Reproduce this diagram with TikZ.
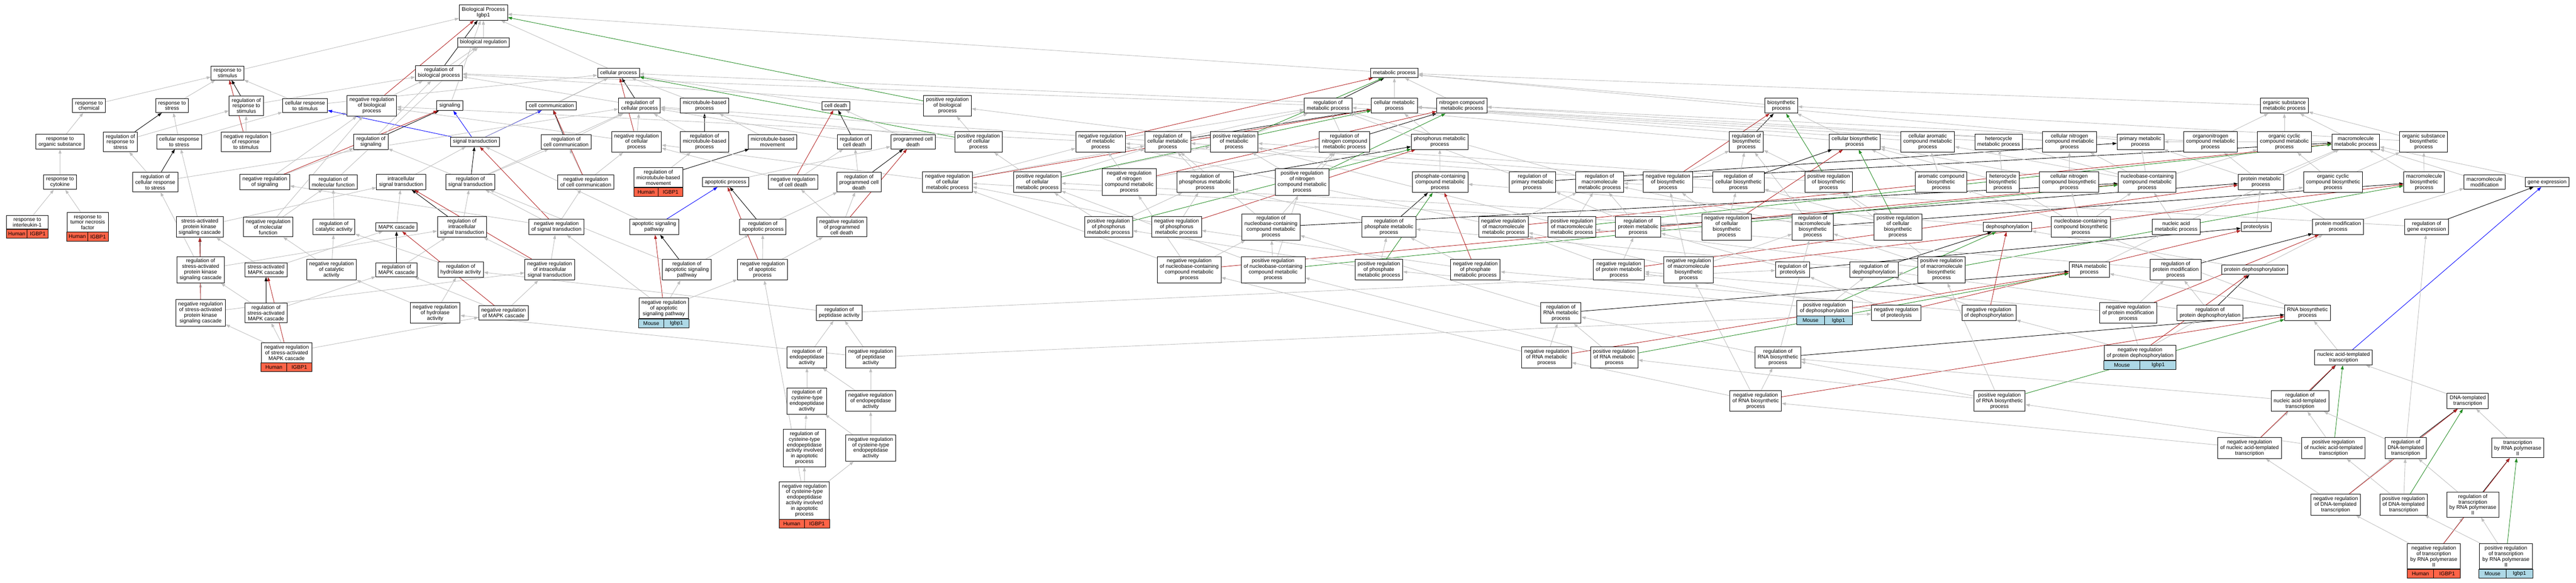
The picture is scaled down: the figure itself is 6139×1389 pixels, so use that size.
\documentclass[tikz,border=0pt]{standalone}
\usepackage{fontspec}
\setmainfont{Liberation Sans}
\usetikzlibrary{arrows.meta,calc}

\pgfdeclarelayer{edges}
\pgfsetlayers{edges,main}

\definecolor{edgegray}{RGB}{190,190,190}
\definecolor{negred}{RGB}{178,34,34}
\definecolor{posgreen}{RGB}{34,139,34}
\definecolor{partblue}{RGB}{0,0,255}
\definecolor{humanred}{RGB}{255,99,71}
\definecolor{mouseblue}{RGB}{173,216,230}

\newcommand{\termfont}{\fontsize{12.6}{13.4}\selectfont}

\tikzset{
  >={Triangle[length=10pt,width=7pt]},
  term/.style={draw=black, fill=white, line width=1.2pt, align=center,
    inner xsep=6pt, inner ysep=5.5pt, font=\termfont},
  isa/.style={->, draw=edgegray, line width=1.1pt},
  reg/.style={->, draw=black, line width=1.1pt},
  negreg/.style={->, draw=negred, line width=1.1pt},
  posreg/.style={->, draw=posgreen, line width=1.1pt},
  partof/.style={->, draw=partblue, line width=1.1pt},
}

% species / gene row under an annotated term
\newcommand{\genetag}[4]{%
  \draw[line width=1.2pt, fill=#4] (#1.south west) rectangle ([yshift=-21pt]#1.south east);
  \draw[line width=1.2pt] (#1.south) -- ([yshift=-21pt]#1.south);
  \node[font=\termfont] (#1sp) at ($(#1.south west)!0.5!(#1.south)+(0pt,-10.5pt)$) {#2};
  \node[font=\termfont] (#1gn) at ($(#1.south)!0.5!(#1.south east)+(0pt,-10.5pt)$) {#3};
}

\begin{document}
\begin{tikzpicture}[x=1pt, y=-1pt]
\useasboundingbox (0,0) rectangle (6139,1389);

% rows 0-2
\node[term] (bp) at (1152,30) {Biological Process\\Igbp1};
\node[term] (bioreg) at (1152,101) {biological regulation};
\node[term] (rstim) at (542,174) {response to\\stimulus};
\node[term] (regbp) at (1046,174) {regulation of\\biological process};
\node[term] (cellp) at (1474,174) {cellular process};
\node[term] (metp) at (3323,174) {metabolic process};

% row 3
\node[term] (rchem) at (212,252) {response to\\chemical};
\node[term] (rstress) at (410,252) {response to\\stress};
\node[term] (regrstim) at (587,252) {regulation of\\response to\\stimulus};
\node[term] (crstim) at (727,252) {cellular response\\to stimulus};
\node[term] (negregbp) at (886,252) {negative regulation\\of biological\\process};
\node[term] (signaling) at (1072,252) {signaling};
\node[term] (cellcomm) at (1314,252) {cell communication};
\node[term] (regcellp) at (1524,252) {regulation of\\cellular process};
\node[term] (mtp) at (1679,252) {microtubule-based\\process};
\node[term] (celldeath) at (1992,252) {cell death};
\node[term] (posregbp) at (2258,252) {positive regulation\\of biological\\process};
\node[term] (regmetp) at (3165,252) {regulation of\\metabolic process};
\node[term] (cellmetp) at (3323,252) {cellular metabolic\\process};
\node[term] (nitmetp) at (3484,252) {nitrogen compound\\metabolic process};
\node[term] (biosp) at (4245,252) {biosynthetic\\process};
\node[term] (orgsubmetp) at (5444,252) {organic substance\\metabolic process};

% row 4
\node[term] (rorg) at (143,338) {response to\\organic substance};
\node[term] (regrstress) at (287,338) {regulation of\\response to\\stress};
\node[term] (crstress) at (427,338) {cellular response\\to stress};
\node[term] (negregrstim) at (586,338) {negative regulation\\of response\\to stimulus};
\node[term] (regsig) at (884,338) {regulation of\\signaling};
\node[term] (sigtrans) at (1132,338) {signal transduction};
\node[term] (regcellcomm) at (1349,338) {regulation of\\cell communication};
\node[term] (negregcellp) at (1517,338) {negative regulation\\of cellular\\process};
\node[term] (regmtp) at (1679,338) {regulation of\\microtubule-based\\process};
\node[term] (mtmove) at (1841,338) {microtubule-based\\movement};
\node[term] (regcelldeath) at (2036,338) {regulation of\\cell death};
\node[term] (pcd) at (2176,338) {programmed cell\\death};
\node[term] (posregcellp) at (2332,338) {positive regulation\\of cellular\\process};
\node[term] (negregmetp) at (2623,338) {negative regulation\\of metabolic\\process};
\node[term] (regcellmetp) at (2783,338) {regulation of\\cellular metabolic\\process};
\node[term] (posregmetp) at (2941,338) {positive regulation\\of metabolic\\process};
\node[term] (regnitmetp) at (3204,338) {regulation of\\nitrogen compound\\metabolic process};
\node[term] (phosmetp) at (3431,338) {phosphorus metabolic\\process};
\node[term] (regbiosp) at (4162,338) {regulation of\\biosynthetic\\process};
\node[term] (cellbiosp) at (4420,338) {cellular biosynthetic\\process};
\node[term] (caromp) at (4594,338) {cellular aromatic\\compound metabolic\\process};
\node[term] (hetmetp) at (4763,338) {heterocycle\\metabolic process};
\node[term] (cnitmetp) at (4932,338) {cellular nitrogen\\compound metabolic\\process};
\node[term] (primmetp) at (5101,338) {primary metabolic\\process};
\node[term] (orgnitp) at (5268,338) {organonitrogen\\compound metabolic\\process};
\node[term] (orgcycp) at (5444,338) {organic cyclic\\compound metabolic\\process};
\node[term] (macmetp) at (5614,338) {macromolecule\\metabolic process};
\node[term] (orgsubbiosp) at (5776,338) {organic substance\\biosynthetic\\process};

% row 5
\node[term] (rcyt) at (143,434) {response to\\cytokine};
\node[term] (regcrstress) at (370,434) {regulation of\\cellular response\\to stress};
\node[term] (negregsig) at (631,434) {negative regulation\\of signaling};
\node[term] (regmolf) at (794,434) {regulation of\\molecular function};
\node[term] (intrasig) at (956,434) {intracellular\\signal transduction};
\node[term] (regsigtrans) at (1121,434) {regulation of\\signal transduction};
\node[term] (negregcellcomm) at (1396,434) {negative regulation\\of cell communication};
\node[term, minimum width=115pt] (regmtmove) at (1569,423) {regulation of\\microtubule-based\\movement};
\genetag{regmtmove}{Human}{IGBP1}{humanred}
\node[term] (apop) at (1729,434) {apoptotic process};
\node[term] (negregcelldeath) at (1890,434) {negative regulation\\of cell death};
\node[term] (regpcd) at (2047,434) {regulation of\\programmed cell\\death};
\node[term] (negregcellmetp) at (2258,434) {negative regulation\\of cellular\\metabolic process};
\node[term] (posregcellmetp) at (2472,434) {positive regulation\\of cellular\\metabolic process};
\node[term] (negregnitmetp) at (2691,434) {negative regulation\\of nitrogen\\compound metabolic\\process};
\node[term] (regphosmetp) at (2872,434) {regulation of\\phosphorus metabolic\\process};
\node[term] (posregnitmetp) at (3103,434) {positive regulation\\of nitrogen\\compound metabolic\\process};
\node[term] (phosphmetp) at (3432,434) {phosphate-containing\\compound metabolic\\process};
\node[term] (regprimmetp) at (3652,434) {regulation of\\primary metabolic\\process};
\node[term] (regmacmetp) at (3812,434) {regulation of\\macromolecule\\metabolic process};
\node[term] (negregbiosp) at (3975,434) {negative regulation\\of biosynthetic\\process};
\node[term] (regcellbiosp) at (4143,434) {regulation of\\cellular biosynthetic\\process};
\node[term] (posregbiosp) at (4358,434) {positive regulation\\of biosynthetic\\process};
\node[term] (arombiosp) at (4626,434) {aromatic compound\\biosynthetic\\process};
\node[term] (hetbiosp) at (4773,434) {heterocycle\\biosynthetic\\process};
\node[term] (cnitbiosp) at (4931,434) {cellular nitrogen\\compound biosynthetic\\process};
\node[term] (nucmetp) at (5117,434) {nucleobase-containing\\compound metabolic\\process};
\node[term] (protmetp) at (5388,434) {protein metabolic\\process};
\node[term] (orgcycbiosp) at (5560,434) {organic cyclic\\compound biosynthetic\\process};
\node[term] (macbiosp) at (5777,434) {macromolecule\\biosynthetic\\process};
\node[term] (macmod) at (5921,434) {macromolecule\\modification};
\node[term] (geneexp) at (6070,434) {gene expression};

% row 6
\node[term, minimum width=99pt] (ril1) at (65,530) {response to\\interleukin-1};
\genetag{ril1}{Human}{IGBP1}{humanred}
\node[term, minimum width=98pt] (rtnf) at (209,530) {response to\\tumor necrosis\\factor};
\genetag{rtnf}{Human}{IGBP1}{humanred}
\node[term] (sapk) at (476,541) {stress-activated\\protein kinase\\signaling cascade};
\node[term] (negregmolf) at (639,541) {negative regulation\\of molecular\\function};
\node[term] (regcat) at (796,541) {regulation of\\catalytic activity};
\node[term] (mapk) at (945,541) {MAPK cascade};
\node[term] (regintrasig) at (1101,541) {regulation of\\intracellular\\signal transduction};
\node[term] (negregsigtrans) at (1326,541) {negative regulation\\of signal transduction};
\node[term] (apopsig) at (1559,541) {apoptotic signaling\\pathway};
\node[term] (regapop) at (1818,541) {regulation of\\apoptotic process};
\node[term] (negregpcd) at (2006,541) {negative regulation\\of programmed\\cell death};
\node[term] (posregphosmetp) at (2642,541) {positive regulation\\of phosphorus\\metabolic process};
\node[term] (negregphosmetp) at (2804,541) {negative regulation\\of phosphorus\\metabolic process};
\node[term] (regnucmetp) at (3029,541) {regulation of\\nucleobase-containing\\compound metabolic\\process};
\node[term] (regphosphmetp) at (3310,541) {regulation of\\phosphate metabolic\\process};
\node[term] (negregmacmetp) at (3583,541) {negative regulation\\of macromolecule\\metabolic process};
\node[term] (posregmacmetp) at (3746,541) {positive regulation\\of macromolecule\\metabolic process};
\node[term] (regprotmetp) at (3904,541) {regulation of\\protein metabolic\\process};
\node[term] (negregcellbiosp) at (4115,541) {negative regulation\\of cellular\\biosynthetic\\process};
\node[term] (regmacbiosp) at (4320,541) {regulation of\\macromolecule\\biosynthetic\\process};
\node[term] (posregcellbiosp) at (4523,541) {positive regulation\\of cellular\\biosynthetic\\process};
\node[term] (dephos) at (4784,541) {dephosphorylation};
\node[term] (nucbiosp) at (4959,541) {nucleobase-containing\\compound biosynthetic\\process};
\node[term] (nucacmetp) at (5186,541) {nucleic acid\\metabolic process};
\node[term] (proteolysis) at (5377,541) {proteolysis};
\node[term] (protmod) at (5572,541) {protein modification\\process};
\node[term] (reggeneexp) at (5783,541) {regulation of\\gene expression};

% row 7
\node[term] (regsapk) at (478,643) {regulation of\\stress-activated\\protein kinase\\signaling cascade};
\node[term] (samapk) at (634,643) {stress-activated\\MAPK cascade};
\node[term] (negregcat) at (790,643) {negative regulation\\of catalytic\\activity};
\node[term] (regmapk) at (945,643) {regulation of\\MAPK cascade};
\node[term] (reghyd) at (1098,643) {regulation of\\hydrolase activity};
\node[term] (negregintrasig) at (1310,643) {negative regulation\\of intracellular\\signal transduction};
\node[term] (regapopsig) at (1637,643) {regulation of\\apoptotic signaling\\pathway};
\node[term] (negregapop) at (1817,643) {negative regulation\\of apoptotic\\process};
\node[term] (negregnucmetp) at (2834,643) {negative regulation\\of nucleobase-containing\\compound metabolic\\process};
\node[term] (posregnucmetp) at (3034,643) {positive regulation\\of nucleobase-containing\\compound metabolic\\process};
\node[term] (posregphosphmetp) at (3286,643) {positive regulation\\of phosphate\\metabolic process};
\node[term] (negregphosphmetp) at (3516,643) {negative regulation\\of phosphate\\metabolic process};
\node[term] (negregprotmetp) at (3858,643) {negative regulation\\of protein metabolic\\process};
\node[term] (negregmacbiosp) at (4024,643) {negative regulation\\of macromolecule\\biosynthetic\\process};
\node[term] (regproteolysis) at (4272,643) {regulation of\\proteolysis};
\node[term] (regdephos) at (4466,643) {regulation of\\dephosphorylation};
\node[term] (posregmacbiosp) at (4627,643) {positive regulation\\of macromolecule\\biosynthetic\\process};
\node[term] (rnametp) at (4979,643) {RNA metabolic\\process};
\node[term] (regprotmod) at (5185,643) {regulation of\\protein modification\\process};
\node[term] (protdephos) at (5373,643) {protein dephosphorylation};

% row 8
\node[term] (negregsapk) at (478,746) {negative regulation\\of stress-activated\\protein kinase\\signaling cascade};
\node[term] (regsamapk) at (634,746) {regulation of\\stress-activated\\MAPK cascade};
\node[term] (negreghyd) at (1037,746) {negative regulation\\of hydrolase\\activity};
\node[term] (negregmapk) at (1200,746) {negative regulation\\of MAPK cascade};
\node[term, minimum width=118pt] (negregapopsig) at (1582,735) {negative regulation\\of apoptotic\\signaling pathway};
\genetag{negregapopsig}{Mouse}{Igbp1}{mouseblue}
\node[term] (regpep) at (2000,746) {regulation of\\peptidase activity};
\node[term] (regrnametp) at (3720,746) {regulation of\\RNA metabolic\\process};
\node[term, minimum width=132pt] (posregdephos) at (4348,735) {positive regulation\\of dephosphorylation};
\genetag{posregdephos}{Mouse}{Igbp1}{mouseblue}
\node[term] (negregproteolysis) at (4519,746) {negative regulation\\of proteolysis};
\node[term] (negregdephos) at (4740,746) {negative regulation\\of dephosphorylation};
\node[term] (negregprotmod) at (5072,746) {negative regulation\\of protein modification\\process};
\node[term] (regprotdephos) at (5267,746) {regulation of\\protein dephosphorylation};
\node[term] (rnabiosp) at (5499,746) {RNA biosynthetic\\process};

% row 9
\node[term, minimum width=120pt] (negregsamapk) at (683,841) {negative regulation\\of stress-activated\\MAPK cascade};
\genetag{negregsamapk}{Human}{IGBP1}{humanred}
\node[term] (regendopep) at (1923,852) {regulation of\\endopeptidase\\activity};
\node[term] (negregpep) at (2075,852) {negative regulation\\of peptidase\\activity};
\node[term] (negregrnametp) at (3686,852) {negative regulation\\of RNA metabolic\\process};
\node[term] (posregrnametp) at (3847,852) {positive regulation\\of RNA metabolic\\process};
\node[term] (regrnabiosp) at (4237,852) {regulation of\\RNA biosynthetic\\process};
\node[term] (negregprotdephos) at (5100,841) {negative regulation\\of protein dephosphorylation};
\genetag{negregprotdephos}{Mouse}{Igbp1}{mouseblue}
\node[term] (natrans) at (5585,852) {nucleic acid-templated\\transcription};

% row 10
\node[term] (regcysendo) at (1923,956) {regulation of\\cysteine-type\\endopeptidase\\activity};
\node[term] (negregendopep) at (2075,956) {negative regulation\\of endopeptidase\\activity};
\node[term] (negregrnabiosp) at (4184,956) {negative regulation\\of RNA biosynthetic\\process};
\node[term] (posregrnabiosp) at (4765,956) {positive regulation\\of RNA biosynthetic\\process};
\node[term] (regnatrans) at (5481,956) {regulation of\\nucleic acid-templated\\transcription};
\node[term] (dnatrans) at (5881,956) {DNA-templated\\transcription};

% row 11
\node[term] (regcysapop) at (1917,1068) {regulation of\\cysteine-type\\endopeptidase\\activity involved\\in apoptotic\\process};
\node[term] (negregcysendo) at (2075,1068) {negative regulation\\of cysteine-type\\endopeptidase\\activity};
\node[term] (negregnatrans) at (5361,1068) {negative regulation\\of nucleic acid-templated\\transcription};
\node[term] (posregnatrans) at (5561,1068) {positive regulation\\of nucleic acid-templated\\transcription};
\node[term] (regdnatrans) at (5733,1068) {regulation of\\DNA-templated\\transcription};
\node[term] (txpol2) at (6000,1068) {transcription\\by RNA polymerase\\II};

% rows 12-13
\node[term, minimum width=119pt] (negregcysapop) at (1917,1193) {negative regulation\\of cysteine-type\\endopeptidase\\activity involved\\in apoptotic\\process};
\genetag{negregcysapop}{Human}{IGBP1}{humanred}
\node[term] (negregdnatrans) at (5566,1203) {negative regulation\\of DNA-templated\\transcription};
\node[term] (posregdnatrans) at (5728,1203) {positive regulation\\of DNA-templated\\transcription};
\node[term] (regtxpol2) at (5893,1203) {regulation of\\transcription\\by RNA polymerase\\II};
\node[term, minimum width=126pt] (negregtxpol2) at (5800,1326) {negative regulation\\of transcription\\by RNA polymerase\\II};
\genetag{negregtxpol2}{Human}{IGBP1}{humanred}
\node[term, minimum width=127pt] (posregtxpol2) at (5972,1326) {positive regulation\\of transcription\\by RNA polymerase\\II};
\genetag{posregtxpol2}{Mouse}{Igbp1}{mouseblue}

\begin{pgfonlayer}{edges}
% top of the tree
\draw[isa] (bioreg) -- (bp);
\draw[isa] (rstim) -- (bp);
\draw[isa] (regbp) -- (bioreg);
\draw[reg] (regbp) -- (bp);
\draw[isa] (cellp) -- (bp);
\draw[isa] (metp) -- (bp);
% row 3
\draw[isa] (rchem) -- (rstim);
\draw[isa] (rstress) -- (rstim);
\draw[reg] (regrstim) -- (rstim);
\draw[isa] (regrstim) -- (regbp);
\draw[isa] (crstim) -- (rstim);
\draw[isa] (crstim) -- (cellp);
\draw[isa] (negregbp) -- (regbp);
\draw[negreg] (negregbp) -- (bp);
\draw[isa] (signaling) -- (bp);
\draw[isa] (cellcomm) -- (cellp);
\draw[reg] (regcellp) -- (cellp);
\draw[isa] (regcellp) -- (regbp);
\draw[isa] (mtp) -- (cellp);
\draw[isa] (celldeath) -- (cellp);
\draw[isa] (posregbp) -- (regbp);
\draw[posreg] (posregbp) -- (bp);
\draw[isa] (regmetp) -- (regbp);
\draw[reg] (regmetp) -- (metp);
\draw[isa] (cellmetp) -- (cellp);
\draw[isa] (cellmetp) -- (metp);
\draw[isa] (nitmetp) -- (metp);
\draw[isa] (biosp) -- (metp);
\draw[isa] (orgsubmetp) -- (metp);
% row 4
\draw[isa] (rorg) -- (rchem);
\draw[reg] (regrstress) -- (rstress);
\draw[isa] (regrstress) -- (regrstim);
\draw[isa] (crstress) -- (rstress);
\draw[isa] (crstress) -- (crstim);
\draw[isa] (negregrstim) -- (regrstim);
\draw[negreg] (negregrstim) -- (rstim);
\draw[isa] (negregrstim) -- (negregbp);
\draw[isa] (regsig) -- (regbp);
\draw[reg] (regsig) -- (signaling);
\draw[partof] (sigtrans) -- (signaling);
\draw[partof] (sigtrans) -- (cellcomm);
\draw[partof] (sigtrans) -- (crstim);
\draw[isa] (sigtrans) -- (cellp);
\draw[reg] (regcellcomm) -- (cellcomm);
\draw[isa] (regcellcomm) -- (regcellp);
\draw[isa] (negregcellp) -- (regcellp);
\draw[negreg] (negregcellp) -- (cellp);
\draw[isa] (negregcellp) -- (negregbp);
\draw[reg] (regmtp) -- (mtp);
\draw[isa] (regmtp) -- (regcellp);
\draw[isa] (mtmove) -- (mtp);
\draw[reg] (regcelldeath) -- (celldeath);
\draw[isa] (regcelldeath) -- (regcellp);
\draw[isa] (pcd) -- (celldeath);
\draw[isa] (posregcellp) -- (regcellp);
\draw[posreg] (posregcellp) -- (cellp);
\draw[isa] (posregcellp) -- (posregbp);
\draw[isa] (negregmetp) -- (regmetp);
\draw[negreg] (negregmetp) -- (metp);
\draw[isa] (negregmetp) -- (negregbp);
\draw[isa] (regcellmetp) -- (regmetp);
\draw[isa] (regcellmetp) -- (regcellp);
\draw[reg] (regcellmetp) -- (cellmetp);
\draw[isa] (posregmetp) -- (regmetp);
\draw[posreg] (posregmetp) -- (metp);
\draw[isa] (posregmetp) -- (posregbp);
\draw[isa] (regnitmetp) -- (regmetp);
\draw[reg] (regnitmetp) -- (nitmetp);
\draw[isa] (phosmetp) -- (cellmetp);
\draw[isa] (regbiosp) -- (regmetp);
\draw[reg] (regbiosp) -- (biosp);
\draw[isa] (cellbiosp) -- (biosp);
\draw[isa] (cellbiosp) -- (cellmetp);
\draw[isa] (caromp) -- (cellmetp);
\draw[isa] (hetmetp) -- (cellmetp);
\draw[isa] (cnitmetp) -- (cellmetp);
\draw[isa] (cnitmetp) -- (nitmetp);
\draw[isa] (primmetp) -- (metp);
\draw[isa] (orgnitp) -- (nitmetp);
\draw[isa] (orgnitp) -- (orgsubmetp);
\draw[isa] (orgcycp) -- (orgsubmetp);
\draw[isa] (macmetp) -- (orgsubmetp);
\draw[isa] (macmetp) -- (primmetp);
\draw[isa] (orgsubbiosp) -- (biosp);
\draw[isa] (orgsubbiosp) -- (orgsubmetp);
% row 5
\draw[isa] (rcyt) -- (rorg);
\draw[isa] (regcrstress) -- (regrstress);
\draw[reg] (regcrstress) -- (crstress);
\draw[isa] (regcrstress) -- (regcellp);
\draw[isa] (negregsig) -- (regsig);
\draw[negreg] (negregsig) -- (signaling);
\draw[isa] (negregsig) -- (negregbp);
\draw[isa] (regmolf) -- (bioreg);
\draw[isa] (intrasig) -- (sigtrans);
\draw[isa] (regsigtrans) -- (regsig);
\draw[reg] (regsigtrans) -- (sigtrans);
\draw[isa] (regsigtrans) -- (regcellcomm);
\draw[isa] (regsigtrans) -- (regcellp);
\draw[isa] (negregcellcomm) -- (regcellcomm);
\draw[negreg] (negregcellcomm) -- (cellcomm);
\draw[isa] (negregcellcomm) -- (negregcellp);
\draw[isa] (regmtmove) -- (regmtp);
\draw[reg] (regmtmove) -- (mtmove);
\draw[isa] (apop) -- (pcd);
\draw[isa] (negregcelldeath) -- (regcelldeath);
\draw[negreg] (negregcelldeath) -- (celldeath);
\draw[isa] (negregcelldeath) -- (negregcellp);
\draw[isa] (regpcd) -- (regcelldeath);
\draw[reg] (regpcd) -- (pcd);
\draw[isa] (negregcellmetp) -- (regcellmetp);
\draw[isa] (negregcellmetp) -- (negregmetp);
\draw[isa] (negregcellmetp) -- (negregcellp);
\draw[negreg] (negregcellmetp) -- (cellmetp);
\draw[isa] (posregcellmetp) -- (regcellmetp);
\draw[isa] (posregcellmetp) -- (posregmetp);
\draw[isa] (posregcellmetp) -- (posregcellp);
\draw[posreg] (posregcellmetp) -- (cellmetp);
\draw[isa] (negregnitmetp) -- (regnitmetp);
\draw[isa] (negregnitmetp) -- (negregmetp);
\draw[negreg] (negregnitmetp) -- (nitmetp);
\draw[isa] (regphosmetp) -- (regcellmetp);
\draw[reg] (regphosmetp) -- (phosmetp);
\draw[isa] (posregnitmetp) -- (regnitmetp);
\draw[isa] (posregnitmetp) -- (posregmetp);
\draw[posreg] (posregnitmetp) -- (nitmetp);
\draw[isa] (phosphmetp) -- (phosmetp);
\draw[isa] (regprimmetp) -- (regmetp);
\draw[reg] (regprimmetp) -- (primmetp);
\draw[isa] (regmacmetp) -- (regmetp);
\draw[reg] (regmacmetp) -- (macmetp);
\draw[isa] (negregbiosp) -- (regbiosp);
\draw[isa] (negregbiosp) -- (negregmetp);
\draw[negreg] (negregbiosp) -- (biosp);
\draw[isa] (regcellbiosp) -- (regbiosp);
\draw[isa] (regcellbiosp) -- (regcellmetp);
\draw[reg] (regcellbiosp) -- (cellbiosp);
\draw[isa] (posregbiosp) -- (regbiosp);
\draw[isa] (posregbiosp) -- (posregmetp);
\draw[posreg] (posregbiosp) -- (biosp);
\draw[isa] (arombiosp) -- (caromp);
\draw[isa] (arombiosp) -- (cellbiosp);
\draw[isa] (hetbiosp) -- (hetmetp);
\draw[isa] (hetbiosp) -- (cellbiosp);
\draw[isa] (cnitbiosp) -- (cnitmetp);
\draw[isa] (cnitbiosp) -- (cellbiosp);
\draw[isa] (nucmetp) -- (caromp);
\draw[isa] (nucmetp) -- (hetmetp);
\draw[isa] (nucmetp) -- (cnitmetp);
\draw[isa] (nucmetp) -- (orgcycp);
\draw[isa] (nucmetp) -- (primmetp);
\draw[isa] (protmetp) -- (macmetp);
\draw[isa] (protmetp) -- (orgnitp);
\draw[isa] (protmetp) -- (primmetp);
\draw[isa] (orgcycbiosp) -- (orgcycp);
\draw[isa] (orgcycbiosp) -- (orgsubbiosp);
\draw[isa] (macbiosp) -- (macmetp);
\draw[isa] (macbiosp) -- (orgsubbiosp);
\draw[isa] (macmod) -- (macmetp);
\draw[isa] (geneexp) -- (macmetp);
% row 6
\draw[isa] (ril1) -- (rcyt);
\draw[isa] (rtnf) -- (rcyt);
\draw[isa] (sapk) -- (crstress);
\draw[isa] (sapk) -- (intrasig);
\draw[isa] (negregmolf) -- (regmolf);
\draw[isa] (negregmolf) -- (negregbp);
\draw[isa] (regcat) -- (regmolf);
\draw[isa] (mapk) -- (intrasig);
\draw[isa] (regintrasig) -- (regsigtrans);
\draw[reg] (regintrasig) -- (intrasig);
\draw[isa] (negregsigtrans) -- (regsigtrans);
\draw[isa] (negregsigtrans) -- (negregsig);
\draw[isa] (negregsigtrans) -- (negregcellcomm);
\draw[negreg] (negregsigtrans) -- (sigtrans);
\draw[partof] (apopsig) -- (apop);
\draw[isa] (apopsig) -- (sigtrans);
\draw[isa] (regapop) -- (regpcd);
\draw[reg] (regapop) -- (apop);
\draw[isa] (negregpcd) -- (regpcd);
\draw[isa] (negregpcd) -- (negregcelldeath);
\draw[negreg] (negregpcd) -- (pcd);
\draw[isa] (posregphosmetp) -- (regphosmetp);
\draw[isa] (posregphosmetp) -- (posregcellmetp);
\draw[posreg] (posregphosmetp) -- (phosmetp);
\draw[isa] (negregphosmetp) -- (regphosmetp);
\draw[isa] (negregphosmetp) -- (negregcellmetp);
\draw[negreg] (negregphosmetp) -- (phosmetp);
\draw[isa] (regnucmetp) -- (regcellmetp);
\draw[isa] (regnucmetp) -- (regnitmetp);
\draw[reg] (regnucmetp) -- (nucmetp);
\draw[isa] (regphosphmetp) -- (regphosmetp);
\draw[reg] (regphosphmetp) -- (phosphmetp);
\draw[isa] (negregmacmetp) -- (regmacmetp);
\draw[isa] (negregmacmetp) -- (negregmetp);
\draw[negreg] (negregmacmetp) -- (macmetp);
\draw[isa] (posregmacmetp) -- (regmacmetp);
\draw[isa] (posregmacmetp) -- (posregmetp);
\draw[posreg] (posregmacmetp) -- (macmetp);
\draw[isa] (regprotmetp) -- (regmacmetp);
\draw[isa] (regprotmetp) -- (regprimmetp);
\draw[reg] (regprotmetp) -- (protmetp);
\draw[isa] (negregcellbiosp) -- (regcellbiosp);
\draw[isa] (negregcellbiosp) -- (negregbiosp);
\draw[isa] (negregcellbiosp) -- (negregcellmetp);
\draw[negreg] (negregcellbiosp) -- (cellbiosp);
\draw[isa] (regmacbiosp) -- (regmacmetp);
\draw[isa] (regmacbiosp) -- (regbiosp);
\draw[reg] (regmacbiosp) -- (macbiosp);
\draw[isa] (posregcellbiosp) -- (regcellbiosp);
\draw[isa] (posregcellbiosp) -- (posregbiosp);
\draw[isa] (posregcellbiosp) -- (posregcellmetp);
\draw[posreg] (posregcellbiosp) -- (cellbiosp);
\draw[isa] (dephos) -- (phosphmetp);
\draw[isa] (nucbiosp) -- (nucmetp);
\draw[isa] (nucbiosp) -- (arombiosp);
\draw[isa] (nucbiosp) -- (hetbiosp);
\draw[isa] (nucbiosp) -- (cnitbiosp);
\draw[isa] (nucbiosp) -- (orgcycbiosp);
\draw[isa] (nucacmetp) -- (nucmetp);
\draw[isa] (nucacmetp) -- (macmetp);
\draw[isa] (proteolysis) -- (protmetp);
\draw[isa] (protmod) -- (protmetp);
\draw[isa] (protmod) -- (macmod);
\draw[isa] (reggeneexp) -- (regmacmetp);
\draw[reg] (reggeneexp) -- (geneexp);
% row 7
\draw[isa] (regsapk) -- (regintrasig);
\draw[isa] (regsapk) -- (regcrstress);
\draw[reg] (regsapk) -- (sapk);
\draw[isa] (samapk) -- (sapk);
\draw[isa] (samapk) -- (mapk);
\draw[isa] (negregcat) -- (regcat);
\draw[isa] (negregcat) -- (negregmolf);
\draw[isa] (regmapk) -- (regintrasig);
\draw[reg] (regmapk) -- (mapk);
\draw[isa] (reghyd) -- (regcat);
\draw[isa] (negregintrasig) -- (regintrasig);
\draw[isa] (negregintrasig) -- (negregsigtrans);
\draw[negreg] (negregintrasig) -- (intrasig);
\draw[isa] (regapopsig) -- (regapop);
\draw[isa] (regapopsig) -- (regsigtrans);
\draw[reg] (regapopsig) -- (apopsig);
\draw[isa] (negregapop) -- (regapop);
\draw[isa] (negregapop) -- (negregpcd);
\draw[negreg] (negregapop) -- (apop);
\draw[isa] (negregnucmetp) -- (regnucmetp);
\draw[isa] (negregnucmetp) -- (negregnitmetp);
\draw[isa] (negregnucmetp) -- (negregcellmetp);
\draw[negreg] (negregnucmetp) -- (nucmetp);
\draw[isa] (posregnucmetp) -- (regnucmetp);
\draw[isa] (posregnucmetp) -- (posregnitmetp);
\draw[isa] (posregnucmetp) -- (posregcellmetp);
\draw[posreg] (posregnucmetp) -- (nucmetp);
\draw[isa] (posregphosphmetp) -- (regphosphmetp);
\draw[isa] (posregphosphmetp) -- (posregphosmetp);
\draw[posreg] (posregphosphmetp) -- (phosphmetp);
\draw[isa] (negregphosphmetp) -- (regphosphmetp);
\draw[isa] (negregphosphmetp) -- (negregphosmetp);
\draw[negreg] (negregphosphmetp) -- (phosphmetp);
\draw[isa] (negregprotmetp) -- (regprotmetp);
\draw[isa] (negregprotmetp) -- (negregmacmetp);
\draw[negreg] (negregprotmetp) -- (protmetp);
\draw[isa] (negregmacbiosp) -- (regmacbiosp);
\draw[isa] (negregmacbiosp) -- (negregbiosp);
\draw[isa] (negregmacbiosp) -- (negregmacmetp);
\draw[negreg] (negregmacbiosp) -- (macbiosp);
\draw[isa] (regproteolysis) -- (regprotmetp);
\draw[reg] (regproteolysis) -- (proteolysis);
\draw[isa] (regdephos) -- (regphosphmetp);
\draw[reg] (regdephos) -- (dephos);
\draw[isa] (posregmacbiosp) -- (regmacbiosp);
\draw[isa] (posregmacbiosp) -- (posregbiosp);
\draw[isa] (posregmacbiosp) -- (posregmacmetp);
\draw[posreg] (posregmacbiosp) -- (macbiosp);
\draw[isa] (rnametp) -- (nucacmetp);
\draw[isa] (regprotmod) -- (regprotmetp);
\draw[reg] (regprotmod) -- (protmod);
\draw[isa] (protdephos) -- (dephos);
\draw[isa] (protdephos) -- (protmod);
% row 8
\draw[isa] (negregsapk) -- (regsapk);
\draw[isa] (negregsapk) -- (negregintrasig);
\draw[negreg] (negregsapk) -- (sapk);
\draw[isa] (regsamapk) -- (regsapk);
\draw[isa] (regsamapk) -- (regmapk);
\draw[reg] (regsamapk) -- (samapk);
\draw[isa] (negreghyd) -- (reghyd);
\draw[isa] (negreghyd) -- (negregcat);
\draw[isa] (negregmapk) -- (regmapk);
\draw[isa] (negregmapk) -- (negregintrasig);
\draw[negreg] (negregmapk) -- (mapk);
\draw[isa] (negregapopsig) -- (regapopsig);
\draw[isa] (negregapopsig) -- (negregapop);
\draw[isa] (negregapopsig) -- (negregsigtrans);
\draw[negreg] (negregapopsig) -- (apopsig);
\draw[isa] (regpep) -- (reghyd);
\draw[isa] (regpep) -- (regproteolysis);
\draw[isa] (regrnametp) -- (regnucmetp);
\draw[reg] (regrnametp) -- (rnametp);
\draw[isa] (posregdephos) -- (regdephos);
\draw[isa] (posregdephos) -- (posregphosphmetp);
\draw[posreg] (posregdephos) -- (dephos);
\draw[isa] (negregproteolysis) -- (regproteolysis);
\draw[isa] (negregproteolysis) -- (negregprotmetp);
\draw[negreg] (negregproteolysis) -- (proteolysis);
\draw[isa] (negregdephos) -- (regdephos);
\draw[isa] (negregdephos) -- (negregphosphmetp);
\draw[negreg] (negregdephos) -- (dephos);
\draw[isa] (negregprotmod) -- (regprotmod);
\draw[isa] (negregprotmod) -- (negregprotmetp);
\draw[negreg] (negregprotmod) -- (protmod);
\draw[isa] (regprotdephos) -- (regprotmod);
\draw[isa] (regprotdephos) -- (regdephos);
\draw[reg] (regprotdephos) -- (protdephos);
\draw[isa] (rnabiosp) -- (rnametp);
\draw[isa] (rnabiosp) -- (nucbiosp);
% row 9
\draw[isa] (negregsamapk) -- (regsamapk);
\draw[isa] (negregsamapk) -- (negregsapk);
\draw[isa] (negregsamapk) -- (negregmapk);
\draw[negreg] (negregsamapk) -- (samapk);
\draw[isa] (regendopep) -- (regpep);
\draw[isa] (negregpep) -- (regpep);
\draw[isa] (negregpep) -- (negreghyd);
\draw[isa] (negregpep) -- (negregproteolysis);
\draw[isa] (negregrnametp) -- (regrnametp);
\draw[isa] (negregrnametp) -- (negregnucmetp);
\draw[negreg] (negregrnametp) -- (rnametp);
\draw[isa] (posregrnametp) -- (regrnametp);
\draw[isa] (posregrnametp) -- (posregnucmetp);
\draw[posreg] (posregrnametp) -- (rnametp);
\draw[isa] (regrnabiosp) -- (regrnametp);
\draw[isa] (regrnabiosp) -- (regmacbiosp);
\draw[reg] (regrnabiosp) -- (rnabiosp);
\draw[isa] (negregprotdephos) -- (regprotdephos);
\draw[isa] (negregprotdephos) -- (negregdephos);
\draw[isa] (negregprotdephos) -- (negregprotmod);
\draw[negreg] (negregprotdephos) -- (protdephos);
\draw[isa] (natrans) -- (rnabiosp);
\draw[partof] (natrans) -- (geneexp);
% row 10
\draw[isa] (regcysendo) -- (regendopep);
\draw[isa] (negregendopep) -- (regendopep);
\draw[isa] (negregendopep) -- (negregpep);
\draw[isa] (negregrnabiosp) -- (regrnabiosp);
\draw[isa] (negregrnabiosp) -- (negregrnametp);
\draw[isa] (negregrnabiosp) -- (negregmacbiosp);
\draw[negreg] (negregrnabiosp) -- (rnabiosp);
\draw[isa] (posregrnabiosp) -- (regrnabiosp);
\draw[isa] (posregrnabiosp) -- (posregrnametp);
\draw[isa] (posregrnabiosp) -- (posregmacbiosp);
\draw[posreg] (posregrnabiosp) -- (rnabiosp);
\draw[isa] (regnatrans) -- (regrnabiosp);
\draw[reg] (regnatrans) -- (natrans);
\draw[isa] (dnatrans) -- (natrans);
% row 11
\draw[isa] (regcysapop) -- (regcysendo);
\draw[isa] (negregcysendo) -- (regcysendo);
\draw[isa] (negregcysendo) -- (negregendopep);
\draw[isa] (negregnatrans) -- (regnatrans);
\draw[isa] (negregnatrans) -- (negregrnabiosp);
\draw[negreg] (negregnatrans) -- (natrans);
\draw[isa] (posregnatrans) -- (regnatrans);
\draw[isa] (posregnatrans) -- (posregrnabiosp);
\draw[posreg] (posregnatrans) -- (natrans);
\draw[isa] (regdnatrans) -- (regnatrans);
\draw[reg] (regdnatrans) -- (dnatrans);
\draw[isa] (regdnatrans) -- (reggeneexp);
\draw[isa] (txpol2) -- (dnatrans);
% rows 12-13
\draw[isa] (negregcysapop) -- (regcysapop);
\draw[isa] (negregcysapop) -- (negregcysendo);
\draw[isa] (negregcysapop) -- (negregapop);
\draw[isa] (negregdnatrans) -- (regdnatrans);
\draw[isa] (negregdnatrans) -- (negregnatrans);
\draw[negreg] (negregdnatrans) -- (dnatrans);
\draw[isa] (posregdnatrans) -- (regdnatrans);
\draw[isa] (posregdnatrans) -- (posregnatrans);
\draw[posreg] (posregdnatrans) -- (dnatrans);
\draw[isa] (regtxpol2) -- (regdnatrans);
\draw[reg] (regtxpol2) -- (txpol2);
\draw[isa] (negregtxpol2) -- (regtxpol2);
\draw[isa] (negregtxpol2) -- (negregdnatrans);
\draw[negreg] (negregtxpol2) -- (txpol2);
\draw[isa] (posregtxpol2) -- (regtxpol2);
\draw[isa] (posregtxpol2) -- (posregdnatrans);
\draw[posreg] (posregtxpol2) -- (txpol2);
\end{pgfonlayer}
\end{tikzpicture}
\end{document}
